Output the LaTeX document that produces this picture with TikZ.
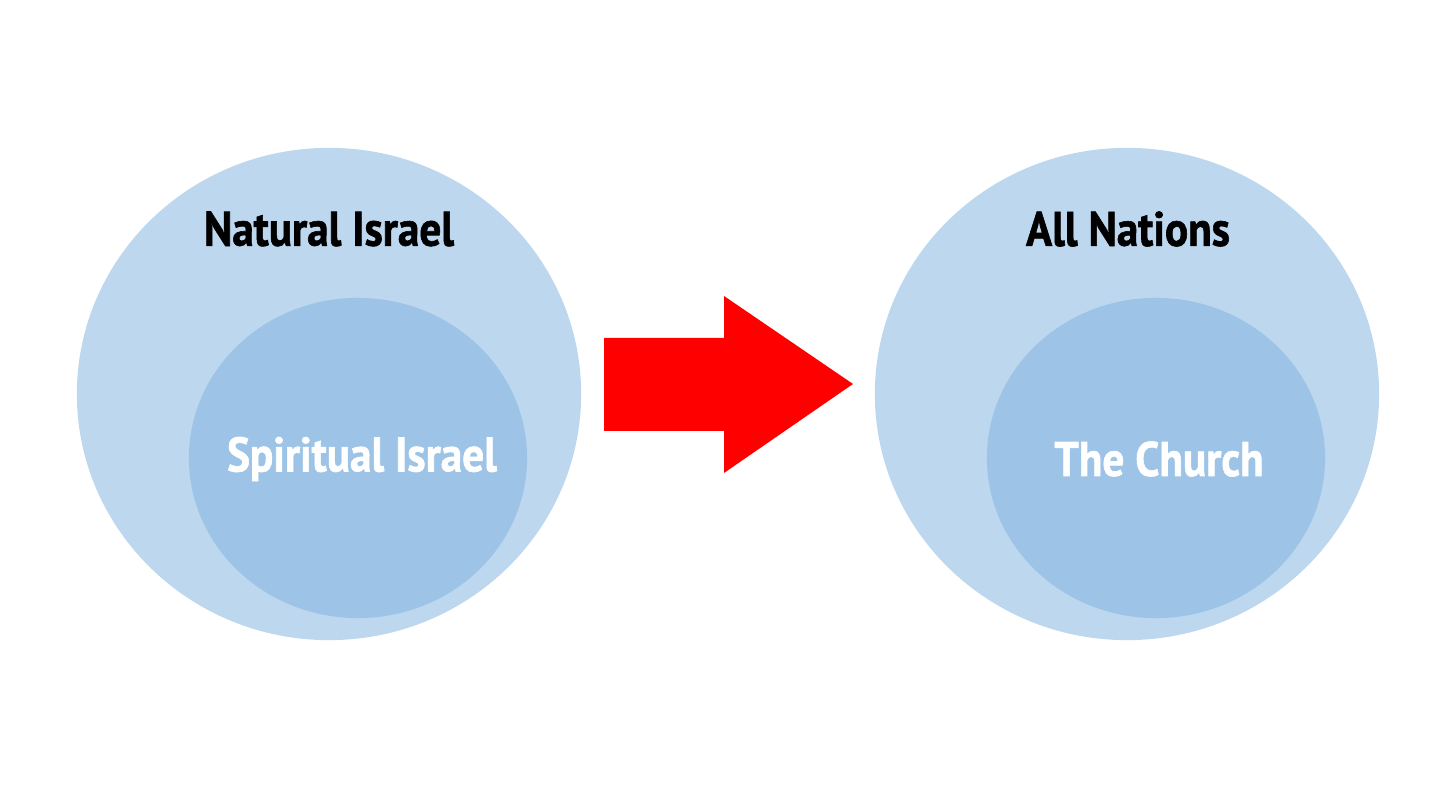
\documentclass[tikz,border=0pt]{standalone}
\usepackage{fontspec}
\usepackage{xcolor}
\usepackage{tikz}
\usetikzlibrary{shapes.geometric}
\newfontfamily\labelfont[FakeStretch=0.89,FakeBold=1.2]{PT Sans Bold}

\definecolor{outerblue}{HTML}{BDD7EE}
\definecolor{innerblue}{HTML}{9DC3E6}
\definecolor{arrowred}{HTML}{FF0000}

\begin{document}
\begin{tikzpicture}[
  x=0.01cm, y=-0.01cm,
  outer/.style={ellipse,fill=outerblue,minimum width=5.04cm,minimum height=4.92cm,inner sep=0pt},
  inner/.style={ellipse,fill=innerblue,minimum width=3.38cm,minimum height=3.2cm,inner sep=0pt},
  title/.style={font=\labelfont\fontsize{13.8}{16}\selectfont,text=black,inner sep=0pt},
  sub/.style={title,text=white}
]
\useasboundingbox (0,0) rectangle (1456,789);

% left group
\node[outer] (natural) at (329,394) {};
\node[inner] (spiritual) at (358,458) {};
\node[title] (naturallbl) at (329,229) {Natural Israel};
\node[sub] (spirituallbl) at (362,459) {Spiritual Israel};

% right group
\node[outer] (nations) at (1127,394) {};
\node[inner] (church) at (1156,458) {};
\node[title] (nationslbl) at (1128,229) {All Nations};
\node[sub] (churchlbl) at (1159,459) {The Church};

% arrow
\fill[arrowred] (604,338) -- (724,338) -- (724,296) -- (853,384)
  -- (724,473) -- (724,431) -- (604,431) -- cycle;

\end{tikzpicture}
\end{document}
